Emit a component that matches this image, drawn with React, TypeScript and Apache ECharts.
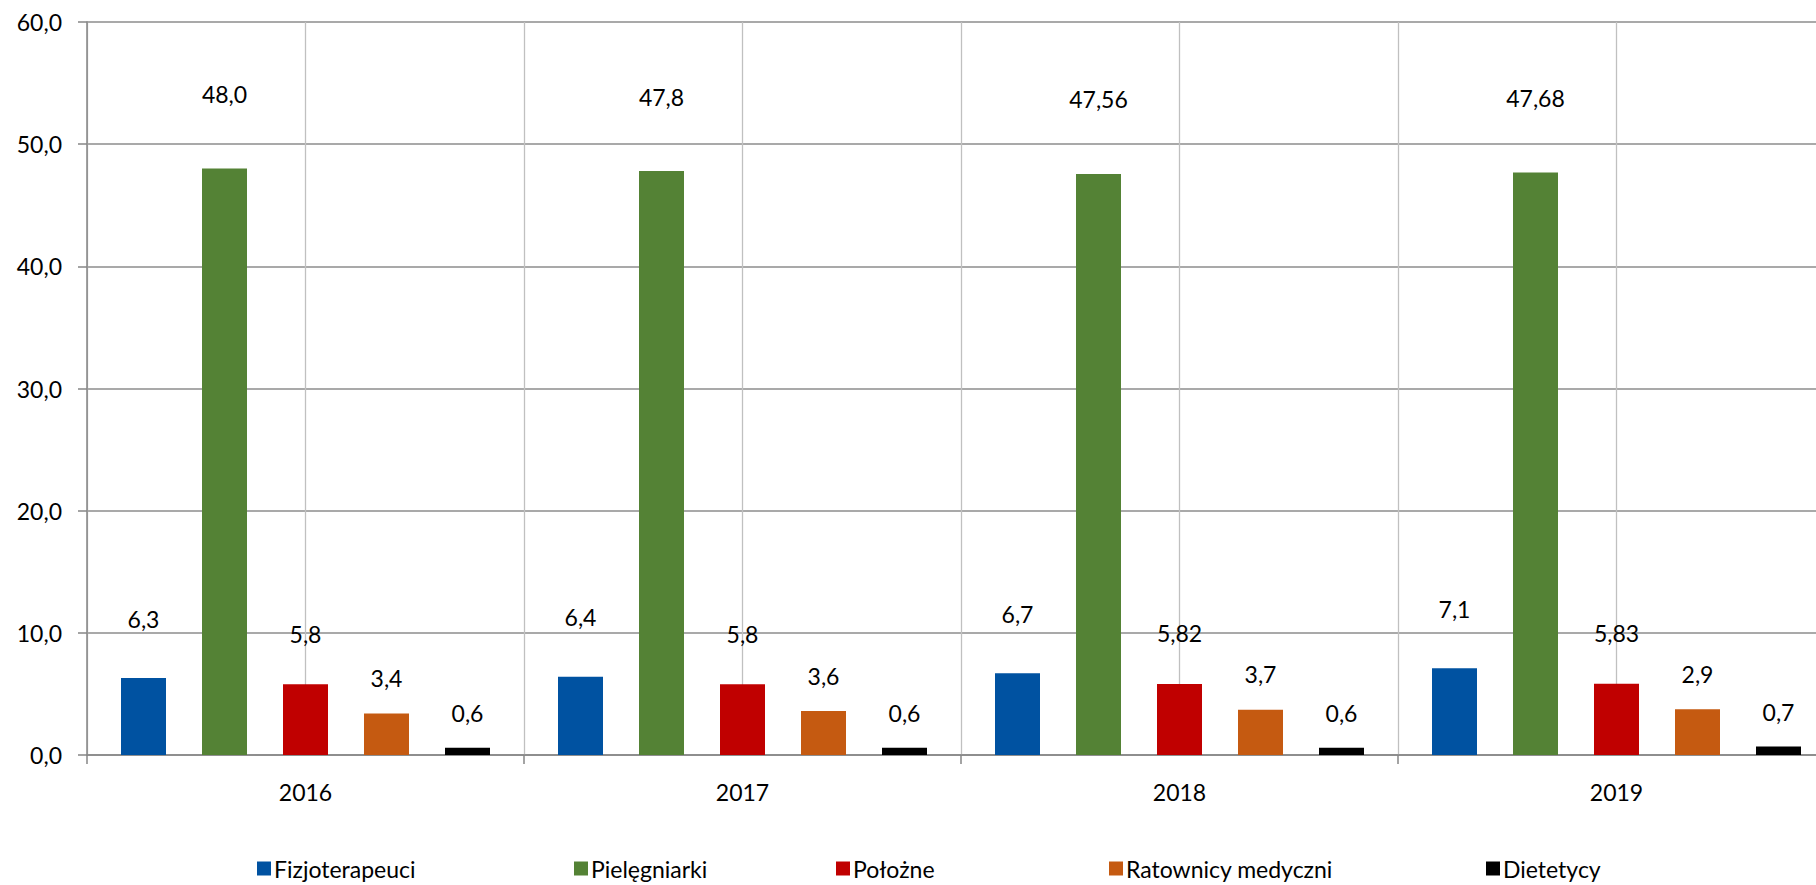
import React, { useEffect, useRef } from "react";
import * as echarts from "echarts";

const years = ["2016", "2017", "2018", "2019"];
const seriesNames = ["Fizjoterapeuci", "Pielęgniarki", "Położne", "Ratownicy medyczni", "Dietetycy"];

const fizjoterapeuci = [6.3, 6.4, 6.7, 7.1];
const pielegniarki = [48.0, 47.8, 47.56, 47.68];
const polozne = [5.8, 5.8, 5.82, 5.83];
const ratownicy = [3.4, 3.6, 3.7, 3.75];
const dietetycy = [0.6, 0.6, 0.6, 0.7];

const fizjoterapeuciLabels = ["6,3", "6,4", "6,7", "7,1"];
const pielegniarkiLabels = ["48,0", "47,8", "47,56", "47,68"];
const polozneLabels = ["5,8", "5,8", "5,82", "5,83"];
const ratownicyLabels = ["3,4", "3,6", "3,7", "2,9"];
const dietetycyLabels = ["0,6", "0,6", "0,6", "0,7"];

const yTicks = [0, 10, 20, 30, 40, 50, 60];
const halfSlots = ["a", "b", "c", "d", "e", "f", "g", "h"];

const colors = ["#0052A1", "#548235", "#C00000", "#C55A11", "#000000"];
const labelDistances = [48, 63, 39, 24, 23];
const legendLefts = [257, 574, 836, 1109, 1486];

const FONT = "Lato, 'Open Sans', sans-serif";

export default function App() {
  const ref = useRef<HTMLDivElement>(null);
  useEffect(() => {
    if (!ref.current) return;
    const chart = echarts.init(ref.current, undefined, { renderer: "svg" });
    const values = [fizjoterapeuci, pielegniarki, polozne, ratownicy, dietetycy];
    const labels = [fizjoterapeuciLabels, pielegniarkiLabels, polozneLabels, ratownicyLabels, dietetycyLabels];
    chart.setOption({
      animation: false,
      backgroundColor: "#ffffff",
      textStyle: { fontFamily: FONT },
      grid: { left: 87, right: 0, top: 22, bottom: 130, containLabel: false },
      legend: seriesNames.map((n, i) => ({
        data: [n],
        left: legendLefts[i],
        top: 857,
        padding: 0,
        icon: "rect",
        itemWidth: 14,
        itemHeight: 14,
        itemGap: 0,
        selectedMode: false,
        textStyle: { fontSize: 23, color: "#000", fontFamily: FONT, padding: [0, 0, 0, -2] },
      })),
      xAxis: [
        {
          type: "category",
          data: years,
          axisLine: { lineStyle: { color: "#868686", width: 1.5 } },
          axisTick: { show: true, length: 9, lineStyle: { color: "#868686", width: 1.5 } },
          axisLabel: { fontSize: 23, color: "#000", margin: 25, fontFamily: FONT },
          splitLine: { show: false },
        },
        {
          type: "category",
          data: halfSlots,
          position: "bottom",
          axisLine: { show: false },
          axisTick: { show: false },
          axisLabel: { show: false },
          splitLine: { show: true, interval: 0, lineStyle: { color: "#c0c0c0", width: 1.3 } },
        },
      ],
      yAxis: {
        type: "value",
        min: yTicks[0],
        max: yTicks[yTicks.length - 1],
        interval: 10,
        axisLine: { show: true, lineStyle: { color: "#868686", width: 1.5 } },
        axisTick: { show: true, length: 9, lineStyle: { color: "#868686", width: 1.5 } },
        axisLabel: {
          fontSize: 23,
          color: "#000",
          margin: 25,
          fontFamily: FONT,
          formatter: (v: number) => v.toFixed(1).replace(".", ","),
        },
        splitLine: { show: true, lineStyle: { color: "#8c8c8c", width: 1.5 } },
      },
      series: seriesNames.map((n, i) => ({
        name: n,
        type: "bar",
        xAxisIndex: 0,
        data: values[i],
        barWidth: 45,
        barGap: "80%",
        itemStyle: { color: colors[i] },
        label: {
          show: true,
          position: "top",
          distance: labelDistances[i],
          fontSize: 23,
          color: "#000",
          fontFamily: FONT,
          formatter: (p: any) => labels[i][p.dataIndex],
        },
      })),
    });
    return () => chart.dispose();
  }, []);
  return (
    <div
      style={{
        position: "fixed",
        left: 0,
        top: 0,
        width: 1816,
        height: 885,
        overflow: "hidden",
        background: "#fff",
      }}
    >
      <div ref={ref} style={{ width: 1835, height: 885 }} />
    </div>
  );
}
